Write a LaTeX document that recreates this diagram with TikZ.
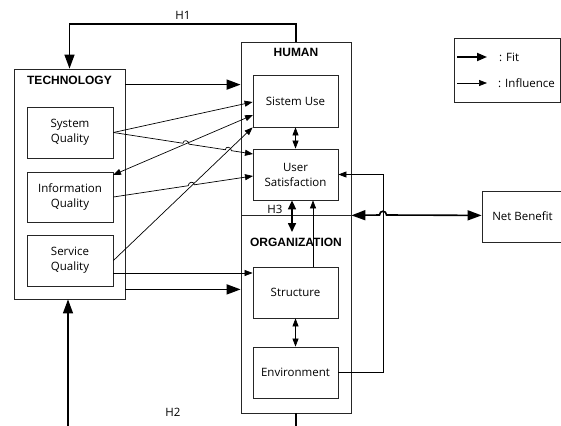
\documentclass[tikz,border=0pt]{standalone}
\usepackage{fontspec}
\setmainfont{Open Sans}
\newfontfamily\labfont{Liberation Sans}
\usetikzlibrary{arrows.meta,calc}
\begin{document}
\begin{tikzpicture}[x=1pt,y=-1pt,
  box/.style={draw=black!85, line width=0.8pt, inner sep=0pt, align=center, font=\fontsize{11.5}{15}\selectfont},
  grp/.style={draw=black!85, line width=0.8pt, inner sep=0pt},
  lab/.style={font=\labfont\bfseries\fontsize{12}{14}\selectfont, inner sep=0pt},
  txt/.style={font=\fontsize{11.5}{15}\selectfont, inner sep=0pt},
  fitarrow/.style={line width=1.6pt, -{Triangle[length=14pt,width=10pt]}},
  fitboth/.style={line width=1.6pt, {Triangle[length=14pt,width=10pt]}-{Triangle[length=14pt,width=10pt]}},
  hthree/.style={line width=1.6pt, {Triangle[length=9pt,width=8pt]}-{Triangle[length=9pt,width=8pt]}},
  infl/.style={line width=0.7pt, -{Triangle[length=8pt,width=6pt]}},
  inflboth/.style={line width=0.7pt, {Triangle[length=8pt,width=6pt]}-{Triangle[length=8pt,width=6pt]}},
  legfit/.style={line width=1.8pt, -{Triangle[length=10pt,width=8pt]}},
]
\fill[white] (0,0) rectangle (561,425);
\useasboundingbox (0,0) rectangle (561,425);

% group boxes
\node[grp, minimum width=111pt, minimum height=230pt] (tech) at (69.5,184) {};
\node[grp, minimum width=110pt, minimum height=173pt] (human) at (296,128.5) {};
\node[grp, minimum width=110pt, minimum height=198pt] (org) at (296,314) {};
\node[grp, minimum width=106pt, minimum height=64pt] (legend) at (507,70) {};

% labels
\node[lab] (techlab) at (69.5,80) {TECHNOLOGY};
\node[lab] (humanlab) at (296,52) {HUMAN};
\node[lab] (orglab) at (296,242) {ORGANIZATION};
\node[txt] (hone) at (183,15) {H1};
\node[txt] (htwo) at (173,412) {H2};
\node[txt] (hthreelab) at (275,209) {H3};

% inner boxes
\node[box, minimum width=86pt, minimum height=51pt] (sq) at (70,132.5) {System\\Quality};
\node[box, minimum width=86pt, minimum height=50pt] (iq) at (70,197) {Information\\Quality};
\node[box, minimum width=86pt, minimum height=51pt] (svq) at (70,260.5) {Service\\Quality};
\node[box, minimum width=85pt, minimum height=52pt] (su) at (295.5,101) {Sistem Use};
\node[box, minimum width=85pt, minimum height=51pt] (us) at (295.5,174.5) {User\\Satisfaction};
\node[box, minimum width=85pt, minimum height=51pt] (st) at (295.5,292.5) {Structure};
\node[box, minimum width=85pt, minimum height=51pt] (env) at (295.5,372.5) {Environment};
\node[box, minimum width=81pt, minimum height=51pt] (nb) at (522.5,216.5) {Net Benefit};

% legend
\coordinate (lfa) at (457,57);
\coordinate (lfb) at (487,57);
\coordinate (lia) at (457,83);
\coordinate (lib) at (487,83);
\draw[legfit] (lfa) -- (lfb);
\draw[infl] (lia) -- (lib);
\node[txt, anchor=west] (lfit) at (499,57) {: Fit};
\node[txt, anchor=west] (linf) at (498,83) {: Influence};

% H1 and H2
\coordinate (hA) at (296,24);
\coordinate (hB) at (69.5,24);
\draw[fitarrow, line width=1.4pt] (human.north) -- (hA) -- (hB) -- (tech.north);
\coordinate (hC) at (296,440);
\coordinate (hD) at (68,440);
\draw[fitarrow, line width=1.4pt] (org.south) -- (hC) -- (hD) -- (tech.south -| hD);

% fit arrows
\draw[fitarrow] ([yshift=-16pt]tech.north east) -- ([yshift=-16pt]tech.north east -| human.west);
\draw[fitarrow] ([yshift=10pt]tech.south east) -- ([yshift=10pt]tech.south east -| org.west);

% influence arrows
\coordinate (suiq) at (253,115);
\coordinate (iqsu) at (113,175);
\draw[inflboth] (suiq) -- (iqsu);
\draw[infl] (sq.east) -- ([yshift=-1pt]su.west);
\draw[infl] (svq.east) -- (su.south west);
\coordinate (sqtous) at (253,154);
\coordinate (h1a) at (183,143.25);
\coordinate (h1b) at (189,144.17);
\coordinate (h2a) at (225.4,149.76);
\coordinate (h2b) at (231.4,150.68);
\draw[infl] (sq.east) -- (h1a) .. controls +(0,-4) and +(0,-4) .. (h1b) -- (h2a) .. controls +(0,-4) and +(0,-4) .. (h2b) -- (sqtous);
\coordinate (iqtous) at (253,176);
\coordinate (h3a) at (188.2,185.72);
\coordinate (h3b) at (194.2,184.82);
\draw[infl] (iq.east) -- (h3a) .. controls +(0,-4) and +(0,-4) .. (h3b) -- (iqtous);
\draw[infl] ([yshift=-12.5pt]svq.east) -- ([yshift=-12.5pt]svq.east -| st.west);

% within human / organization
\draw[inflboth] (su) -- (us);
\draw[inflboth] (st) -- (env);
\draw[infl] ([xshift=17.5pt]st.north) -- ([xshift=17.5pt]st.north |- us.south);
\coordinate (hthreeend) at (292,232);
\draw[hthree] ([xshift=-3.5pt]us.south) -- (hthreeend);
\coordinate (envr) at (383,372.5);
\draw[infl] (env.east) -- (envr) |- (us.east);

% net benefit
\coordinate (nbh1) at (379.5,215);
\coordinate (nbh2) at (386.5,215);
\draw[fitboth] (human.south east) -- (nbh1) .. controls +(0,-5) and +(0,-5) .. (nbh2) -- (nb.west |- human.south east);
\end{tikzpicture}
\end{document}
